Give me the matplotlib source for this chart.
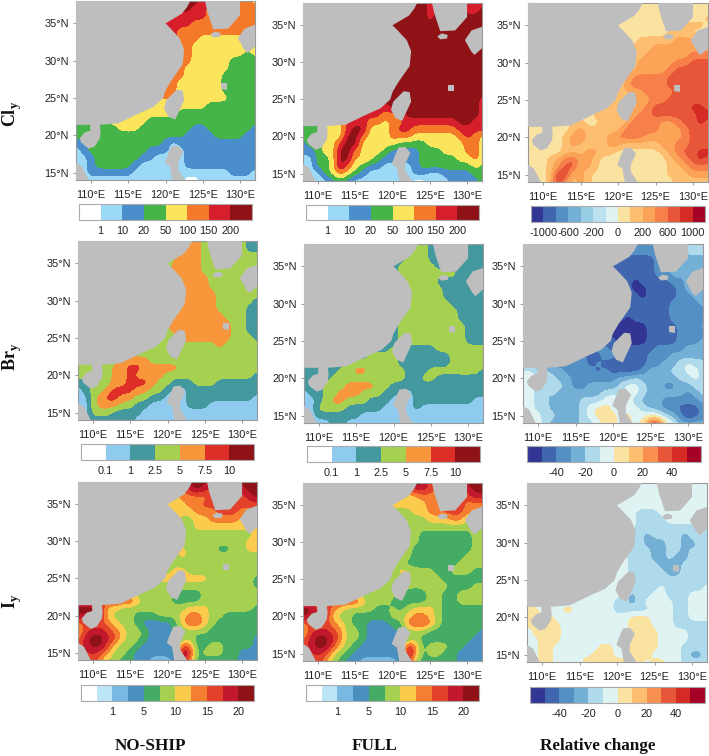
import numpy as np
import matplotlib
matplotlib.use('Agg')
import matplotlib.pyplot as plt
from matplotlib.colors import ListedColormap, BoundaryNorm

plt.rcParams['font.family'] = ['Liberation Sans', 'DejaVu Sans']
plt.rcParams['mathtext.fontset'] = 'custom'
plt.rcParams['mathtext.bf'] = 'Liberation Serif:bold'
plt.rcParams['mathtext.rm'] = 'Liberation Serif:bold'

# band index per grid node, one row per latitude 38N..14N, lon 108E..132E
cly_noship = [
    "77777 77777 77777 77655 55554", "66666 66666 66667 76655 55555", "66666 66666 66666 66655 55555",
    "66666 66666 66666 65555 55555", "66666 66666 66665 55555 55555", "66666 66666 66665 55444 44444",
    "55555 55555 55555 54444 44444", "55555 55555 55555 54444 44434", "55555 55555 55555 54444 43333",
    "55555 55555 55555 44444 43333", "55555 55555 55555 44444 33333", "55555 55555 55554 44444 33333",
    "55555 55555 55554 44444 33333", "44444 44444 44544 44444 43333", "44444 44444 44444 44433 33333",
    "44444 44444 44443 33333 33333", "33344 44444 33333 33333 33333", "33333 34443 33333 32233 33332",
    "33333 33333 33333 22223 33322", "22333 33333 33212 22222 22222", "12333 33333 22211 22222 22222",
    "11233 33332 21111 22222 22222", "11233 33321 11111 22222 22222", "11222 22211 11111 11111 12221",
    "11111 11111 11111 00111 11111"]
cly_full = [
    "77777 77777 77777 77666 66666", "77777 77777 77777 77677 77667", "77777 77777 77777 77677 77777",
    "77777 77777 77777 77777 77777", "77777 77777 77777 77777 77777", "77777 77777 77777 77777 77777",
    "77777 77777 77777 77777 77777", "77777 77777 77777 77777 77777", "77777 77777 77777 77777 77777",
    "77777 77777 77777 77777 77777", "77777 77777 77777 77777 77777", "77777 77777 77777 77777 77777",
    "77777 77777 77777 77777 77777", "77777 77777 77777 77777 77776", "66666 66666 66777 77777 77776",
    "66666 66666 65567 77777 77776", "33344 46665 54556 66666 67766", "33344 46774 44566 55555 56666",
    "33344 47754 44555 44444 45654", "23344 67744 54433 33444 44554", "22344 77544 43222 23334 44554",
    "11334 77454 32222 23333 34454", "11334 75432 21111 23333 33343", "11134 54321 11111 22112 22233",
    "11112 32111 11111 00111 22223"]
cly_rel = [
    "77777 77777 77777 77777 77777", "77777 77777 77777 77777 77777", "77777 77777 77777 77777 77778",
    "77777 77777 77777 77777 78887", "77777 77777 77777 77778 88777", "77777 77777 77777 88888 99999",
    "77777 77777 77778 88999 99999", "77777 77777 77778 89999 99aaa", "77777 77777 77788 99999 aabbb",
    "77777 77777 77788 9999a bbbbb", "77777 77777 7778a aaaab bbbcb", "77777 77777 7789a aaaab bbbbb",
    "77777 77777 78889 9aaaa bbbbb", "77777 77777 78888 99aab bbbbb", "77777 77777 88888 9abbb bbccb",
    "77777 77778 89889 aabbb bbbcc", "77777 78877 8888a aaa99 abbcb", "76777 78988 888ab aaa99 9abbb",
    "77777 89a87 89aaa a9999 9abab", "77777 89888 89988 88899 aabbb", "77777 88899 88777 77789 abbcc",
    "77789 ab998 77777 77778 9abcb", "77789 bb898 77777 77778 89aaa", "7778c c8987 77777 77778 88999",
    "7778c 98987 77777 77777 88888"]
bry_noship = [
    "33333 33333 33333 34333 33322", "33333 33333 33333 44333 33322", "33333 33333 33334 44333 33333",
    "33333 33333 33344 44333 33333", "33333 33333 33344 44333 33333", "33333 33333 33334 44433 33333",
    "33333 33333 33334 44433 33333", "33333 33333 33334 44443 33333", "33333 33333 33334 44443 33332",
    "33333 33333 33334 44443 33322", "33333 33333 33344 44444 33322", "33333 33333 33444 44444 43322",
    "33333 33333 33344 44444 43322", "33333 33333 33334 44444 43332", "33333 33333 33333 33334 33333",
    "33333 33333 33333 33333 33333", "33333 34444 33333 33333 33333", "33333 44554 44443 33333 33333",
    "33333 44544 44333 33333 33332", "22333 44555 43322 23332 22222", "12334 55544 33211 22222 22222",
    "11345 54433 22111 22222 22221", "11344 43322 11111 22211 11111", "11333 22221 11111 11111 11111",
    "11222 22211 11111 11111 11111"]
bry_full = [
    "22222 22222 22222 33222 22222", "22222 22222 22222 33222 22222", "22222 22222 22223 33222 22222",
    "22222 22222 22233 33322 22222", "22222 22222 22233 33333 32222", "22222 22222 22233 33322 22222",
    "22222 22222 22233 33332 22222", "22222 22222 22233 33332 22222", "22222 22222 22233 33333 22222",
    "22222 22222 22233 33333 32322", "22222 22222 22233 33333 32222", "22222 22222 22233 33333 33222",
    "22222 22222 22233 33333 33222", "22222 22222 22233 33333 33222", "22222 22222 22322 22233 33333",
    "22222 22223 33322 22222 33333", "22222 23333 33322 22222 33333", "23222 33443 33332 22333 33332",
    "22223 33333 33332 23322 22222", "22233 34444 33222 22222 22222", "12233 44433 32211 22222 22222",
    "11234 43332 22111 22222 22211", "11333 32222 21111 21111 11111", "11222 22211 11111 11111 11111",
    "11112 21111 11111 11111 11111"]
bry_rel = [
    "22222 22222 22222 22222 33444", "22222 22222 22222 22222 33444", "11111 11111 11111 11122 33333",
    "11111 11111 11101 11122 33333", "11111 11111 11111 11122 33333", "11111 11111 11111 01111 22333",
    "11111 11111 11111 00111 12333", "11111 11111 11111 10111 12233", "11111 11111 11111 11111 22223",
    "11111 11111 11111 11111 22222", "11111 11111 11110 11111 22222", "11111 11111 11000 00111 12223",
    "11111 11111 11000 00111 12222", "11111 11111 11100 00111 12223", "11111 11111 22111 11122 22333",
    "22222 22221 12211 11222 33333", "22222 22221 21111 01223 34544", "55443 32222 12111 12333 44554",
    "55444 33222 22233 43333 34454", "55444 43223 33345 54332 23344", "55434 33333 34445 54333 33234",
    "65443 33344 45655 43332 22223", "55443 33345 66555 54332 21112", "55544 33345 66656 55654 32012",
    "55543 33344 56656 569a6 53333"]
iy_noship = [
    "88888 88888 88888 aaa88 89aaa", "77777 77777 77777 9a988 889aa", "66666 66666 66667 77788 8889a",
    "66666 66666 66666 77888 88888", "66666 66666 66666 67778 88777", "66666 66666 66665 56677 77666",
    "66666 66666 66665 56666 66666", "55555 55555 55555 55555 55556", "55555 55555 55555 55555 55566",
    "55555 55555 55556 55554 45566", "55555 55555 55556 55455 55555", "55555 55555 55555 55555 55555",
    "55555 55555 55566 55555 55555", "55555 55555 56666 66655 55554", "55555 55555 55555 55555 55554",
    "55555 55555 56544 44555 55555", "88888 88865 55544 44555 55555", "aaa96 65555 55555 66655 55554",
    "a9a96 55544 45556 77655 44444", "78787 65543 33346 88654 44444", "68998 76554 33345 55544 44444",
    "79aa9 86554 33334 54444 44443", "89aa8 65543 33338 74455 44443", "88987 55433 3333a 94555 44333",
    "88875 54433 22239 74444 44333"]
iy_full = [
    "aaaaa aaaaa aaaaa aa888 88aaa", "77777 77777 66667 99877 889aa", "66666 66666 66666 67778 88899",
    "66666 66666 66666 66778 88777", "55555 55555 55555 66778 88777", "55555 55555 55555 55666 77555",
    "55555 55555 55555 55555 55555", "55555 55555 55555 54444 44455", "55555 55555 55555 54444 44455",
    "55555 55555 55555 44444 44455", "55555 55555 55555 44444 44555", "55555 55555 55554 44444 45555",
    "55555 55555 55566 55544 55544", "55555 55555 55555 65554 44444", "55555 55555 55555 55555 44455",
    "55555 55555 56544 34554 45555", "88888 88865 55444 44554 45555", "aa897 65555 44545 66654 44444",
    "a9896 55444 44556 77654 44444", "78787 65443 33447 88754 44444", "68998 75543 33345 55444 44443",
    "79aa9 75543 33334 54444 44433", "89aa8 65433 33339 74555 44333", "88986 54333 3333a 74554 43333",
    "88875 43322 22239 54444 43333"]
iy_rel = [
    "55555 55555 55555 55555 55555", "55555 55555 55555 55555 55555", "55555 55555 55555 55555 55555",
    "55555 55555 55555 55555 55555", "55555 55555 55555 44455 55555", "55555 55555 55555 44445 55555",
    "55555 55555 55555 44444 44444", "55555 55555 44444 43444 43444", "55555 55555 44444 43334 43344",
    "55555 55555 44444 44334 43434", "55555 55555 55554 44334 33444", "55555 55555 55554 34433 34444",
    "55555 55555 55554 44443 34444", "55555 55555 55554 44444 44444", "55555 55555 55554 44454 44445",
    "55555 55555 55543 44554 44555", "55555 55555 55443 45555 44555", "66555 66555 55444 44555 44555",
    "66665 55455 55556 66555 44555", "65666 55555 54556 66555 44444", "56666 55555 55556 66655 55444",
    "55666 55555 55566 66655 55444", "55665 55555 66556 66655 54444", "55665 55656 66556 66555 54334",
    "55665 55566 66666 65665 54444"]

cly_colors = ['#ffffff', '#9cd9f7', '#4a8fcb', '#46b549', '#fbe55c', '#f47a2a', '#d71f2c', '#8e1216']
bry_colors = ['#ffffff', '#8ecbef', '#44999f', '#a6d04f', '#f7963b', '#dd2e27', '#8e1216']
iy_colors = ['#ffffff', '#bde5f8', '#7ab8e4', '#4a90be', '#45ac66', '#a6d04f', '#fbcb4e', '#f47f30',
             '#e4412a', '#c2182b', '#8e1216']
rel14_colors = ['#313695', '#3f66ae', '#5590c4', '#74afd6', '#97cee4', '#bce2f0', '#e0f3f3', '#fae3a1',
                '#fdbf6f', '#fba356', '#f67f4a', '#e8563a', '#d42c25', '#a50026']
rel12_colors = ['#313695', '#3f66ae', '#5590c4', '#74afd6', '#afdaec', '#e0f3f3', '#fae3a1', '#fdbf6f',
                '#fa9050', '#e8563a', '#d42c25', '#a50026']

cly_ticks = ['1', '10', '20', '50', '100', '150', '200']
bry_ticks = ['0.1', '1', '2.5', '5', '7.5', '10']
iy_ticks = ['1', '5', '10', '15', '20']
rel14_ticks = ['-1000', '-600', '-200', '0', '200', '600', '1000']
rel12_ticks = ['-40', '-20', '0', '20', '40']

# land outlines, lon/lat
china_lon = [108, 123.3, 122.9, 122.2, 120, 120.6, 121.9, 122.5, 122.3, 120.7, 120, 119.7, 118.4, 116.6, 113.7,
             111.2, 111.3, 111.2, 110.5, 109.7, 108.7, 108.5, 109.2, 109.9, 109.9, 108]
china_lat = [38, 38, 37.2, 36.3, 35, 34.4, 33, 31.5, 29.5, 27.2, 26, 25, 23.8, 23, 21.6,
             21.4, 20.5, 19.6, 18.5, 18.2, 19, 19.6, 20.4, 20.6, 21.4, 21.4]
korea_lon = [125.3, 125.6, 126.2, 126.4, 128.4, 130, 130]
korea_lat = [38, 36.6, 34.8, 34.2, 34.3, 36.1, 38]
jeju_lon = [126, 126.6, 127.4, 127.3, 126.4]
jeju_lat = [33.5, 33.9, 33.7, 33.2, 33.1]
kyushu_lon = [132, 130.6, 129.7, 130.6, 131, 132]
kyushu_lat = [34.8, 34.3, 33, 31.4, 31, 31.9]
taiwan_lon = [121.5, 122.3, 122.5, 121.9, 121.3, 120.4, 119.8, 120.1]
taiwan_lat = [26.1, 26, 24.7, 23.4, 22.1, 22.5, 23.6, 24.7]
luzon_lon = [120.8, 121.7, 122.4, 121.7, 121.7, 122.6, 120.9, 120.6, 119.9, 120.4]
luzon_lat = [18.5, 18.6, 17.8, 16.3, 15.4, 14, 14, 15.8, 16.3, 17.6]
vietnam_lon = [108, 108.8, 109.7, 108]
vietnam_lat = [16.3, 15.8, 14, 14]
okinawa_lon = [127.5, 127.5, 128.3, 128.3]
okinawa_lat = [26.2, 27, 27, 26.1]
land = [(china_lon, china_lat), (korea_lon, korea_lat), (jeju_lon, jeju_lat), (kyushu_lon, kyushu_lat),
        (taiwan_lon, taiwan_lat), (luzon_lon, luzon_lat), (vietnam_lon, vietnam_lat), (okinawa_lon, okinawa_lat)]

W, H = 709, 756
fig = plt.figure(figsize=(W / 100, H / 100), dpi=100)


def box(x0, y0, x1, y1):
    return [x0 / W, 1 - y1 / H, (x1 - x0) / W, (y1 - y0) / H]


def panel(rows, colors, tick_labels, first, step, pos, cpos):
    ax = fig.add_axes(box(*pos))
    grid = np.array([[int(c, 16) for c in r.replace(' ', '')] for r in rows])
    levels = np.arange(len(colors) + 1) - 0.5
    norm = BoundaryNorm(levels, len(colors))
    im = ax.imshow(grid, extent=(107.5, 132.5, 13.5, 38.5), aspect='auto', cmap=ListedColormap(colors),
                   norm=norm, interpolation='bicubic', interpolation_stage='data')
    for lo, la in land:
        ax.fill(lo, la, color='#bebebe', lw=0, zorder=3)
    ax.set_xlim(108, 132)
    ax.set_ylim(14, 38)
    ax.set_xticks(range(110, 131, 5))
    ax.set_xticklabels(['%d°E' % v for v in range(110, 131, 5)])
    ax.set_yticks(range(15, 36, 5))
    ax.set_yticklabels(['%d°N' % v for v in range(15, 36, 5)])
    ax.tick_params(labelsize=7.9, length=2.2, width=0.6, color='#888888', labelcolor='#222222')
    ax.tick_params(axis='x', pad=5)
    ax.tick_params(axis='y', pad=3)
    for s in ax.spines.values():
        s.set_color('#999999')
        s.set_linewidth(0.8)
    cax = fig.add_axes(box(*cpos))
    cb = fig.colorbar(im, cax=cax, orientation='horizontal', spacing='uniform')
    cb.set_ticks([levels[first + i * step] for i in range(len(tick_labels))])
    cb.set_ticklabels(tick_labels)
    cb.ax.tick_params(labelsize=7.9, length=0, pad=4, labelcolor='#222222')
    cb.ax.minorticks_off()
    cb.outline.set_edgecolor('#aaaaaa')
    cb.outline.set_linewidth(0.8)


panel(cly_noship, cly_colors, cly_ticks, 1, 1, (76, 1, 255, 180), (79, 204, 252, 220))
panel(cly_full, cly_colors, cly_ticks, 1, 1, (303, 3, 482, 181), (306, 205, 479, 220))
panel(cly_rel, rel14_colors, rel14_ticks, 1, 2, (528, 3, 708, 182), (531, 206, 705, 222))
panel(bry_noship, bry_colors, bry_ticks, 1, 1, (78, 241, 257, 420), (81, 444, 254, 460))
panel(bry_full, bry_colors, bry_ticks, 1, 1, (304, 244, 483, 423), (307, 446, 480, 462))
panel(bry_rel, rel12_colors, rel12_ticks, 2, 2, (523, 244, 703, 423), (527, 446, 701, 462))
panel(iy_noship, iy_colors, iy_ticks, 2, 2, (78, 482, 257, 660), (81, 685, 254, 701))
panel(iy_full, iy_colors, iy_ticks, 2, 2, (303, 483, 482, 661), (306, 685, 479, 701))
panel(iy_rel, rel12_colors, rel12_ticks, 2, 2, (527, 483, 707, 662), (530, 687, 705, 703))

serif = dict(family='Liberation Serif', fontweight='bold', color='#111111', ha='center', va='center')
fig.text(12 / W, 1 - 114 / H, r'Cl$_{\mathrm{y}}$', rotation=90, fontsize=13, **serif)
fig.text(12 / W, 1 - 357 / H, r'Br$_{\mathrm{y}}$', rotation=90, fontsize=13, **serif)
fig.text(12 / W, 1 - 601 / H, r'I$_{\mathrm{y}}$', rotation=90, fontsize=13, **serif)
fig.text(150 / W, 1 - 746 / H, 'NO-SHIP', fontsize=12.3, **serif)
fig.text(375 / W, 1 - 746 / H, 'FULL', fontsize=12.3, **serif)
fig.text(598 / W, 1 - 746 / H, 'Relative change', fontsize=12.3, **serif)

fig.savefig('out.png', dpi=100)
